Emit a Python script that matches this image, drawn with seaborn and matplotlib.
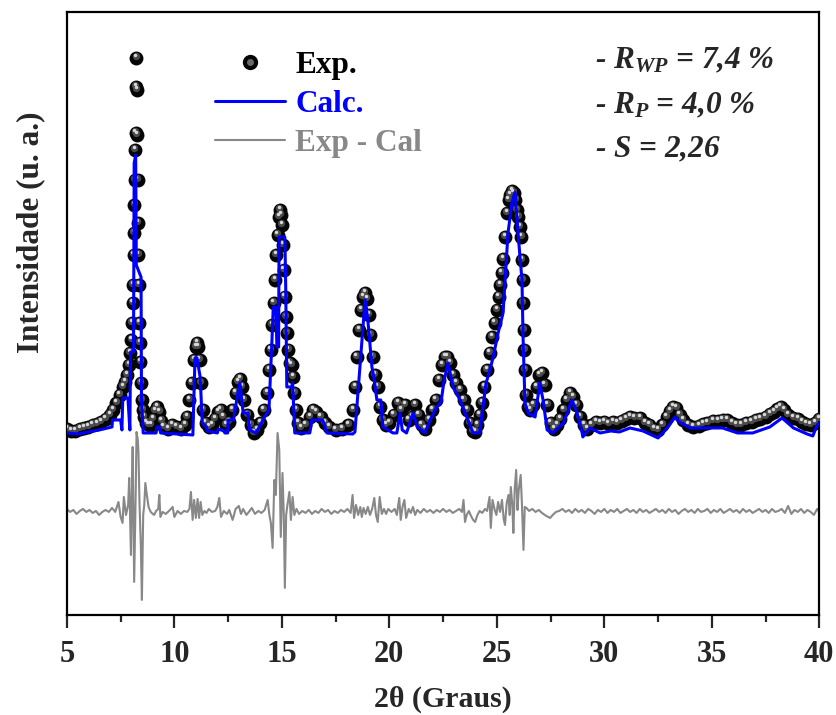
import matplotlib
matplotlib.use("Agg")
import matplotlib.pyplot as plt
import matplotlib.transforms as mtransforms
from matplotlib.lines import Line2D
from matplotlib.legend_handler import HandlerTuple
from matplotlib.ticker import MultipleLocator
import seaborn as sns
import pandas as pd

# Experimental pattern (2theta, intensity in arbitrary units)
exp_x = [5.0, 5.2, 5.4, 5.6, 5.8, 6.0, 6.2, 6.4, 6.6, 6.8, 7.0, 7.15, 7.3, 7.45, 7.6, 7.7, 7.8, 7.88, 7.95,
         8.0, 8.03, 8.06, 8.08, 8.10, 8.12, 8.14, 8.16, 8.18, 8.20, 8.22, 8.23, 8.25, 8.27, 8.29, 8.31, 8.33,
         8.35, 8.37, 8.39, 8.42, 8.45, 8.49, 8.54, 8.6, 8.7, 8.8, 8.9, 9.0, 9.1, 9.2, 9.3, 9.4, 9.5, 9.7,
         9.9, 10.1, 10.3, 10.5, 10.6, 10.7, 10.8, 10.9, 11.0, 11.05, 11.1, 11.17, 11.25, 11.33, 11.45, 11.6,
         11.75, 11.9, 12.05, 12.15, 12.25, 12.4, 12.55, 12.7, 12.85, 12.95, 13.05, 13.15, 13.25, 13.4, 13.55,
         13.7, 13.85, 14.0, 14.15, 14.3, 14.4, 14.48, 14.55, 14.62, 14.68, 14.74, 14.8, 14.86, 14.91, 14.96,
         15.0, 15.04, 15.08, 15.13, 15.18, 15.24, 15.3, 15.36, 15.45, 15.52, 15.58, 15.65, 15.75, 15.9, 16.1,
         16.3, 16.45, 16.6, 16.8, 17.0, 17.2, 17.5, 17.8, 18.1, 18.3, 18.4, 18.48, 18.58, 18.68, 18.78, 18.87,
         18.96, 19.05, 19.12, 19.22, 19.33, 19.45, 19.57, 19.7, 19.85, 20.0, 20.2, 20.4, 20.55, 20.73, 20.9,
         21.05, 21.2, 21.35, 21.5, 21.66, 21.85, 22.0, 22.15, 22.3, 22.45, 22.6, 22.7, 22.82, 22.96, 23.1,
         23.29, 23.45, 23.6, 23.75, 23.9, 24.0, 24.1, 24.2, 24.31, 24.42, 24.54, 24.66, 24.78, 24.9, 25.0,
         25.08, 25.15, 25.22, 25.3, 25.38, 25.47, 25.55, 25.62, 25.7, 25.78, 25.86, 25.93, 26.0, 26.08, 26.14,
         26.18, 26.2, 26.22, 26.25, 26.28, 26.31, 26.36, 26.45, 26.55, 26.7, 26.85, 26.98, 27.1, 27.22, 27.35,
         27.5, 27.65, 27.8, 27.95, 28.1, 28.25, 28.4, 28.55, 28.7, 28.87, 29.05, 29.2, 29.4, 29.6, 29.8, 30.0,
         30.2, 30.4, 30.6, 30.8, 31.0, 31.2, 31.4, 31.66, 31.9, 32.1, 32.3, 32.5, 32.7, 32.9, 33.05, 33.2,
         33.35, 33.5, 33.66, 33.9, 34.13, 34.4, 34.6, 34.8, 35.06, 35.3, 35.5, 35.7, 35.95, 36.15, 36.35, 36.6,
         36.85, 37.05, 37.25, 37.5, 37.7, 37.9, 38.05, 38.2, 38.35, 38.55, 38.8, 39.0, 39.2, 39.4, 39.6, 39.8, 40.0]
exp_y = [186, 184, 184, 186, 187, 188, 190, 191, 193, 196, 200, 205, 212, 220, 228, 233, 240, 250, 262,
         275, 292, 312, 330, 360, 382, 410, 435, 465, 482, 528, 557, 525, 480, 435, 392, 360,
         330, 292, 272, 253, 232, 215, 205, 198, 192, 190, 190, 196, 204, 208, 203, 194, 188, 186,
         190, 188, 186, 190, 198, 215, 232, 255, 268, 272, 268, 255, 232, 205, 192, 188,
         190, 196, 203, 205, 198, 190, 193, 205, 222, 233, 236, 228, 215, 200, 190,
         182, 185, 192, 205, 222, 245, 265, 290, 312, 335, 360, 380, 398, 405, 400,
         390, 370, 345, 318, 298, 282, 265, 252, 250, 238, 222, 205, 192, 187, 190,
         198, 205, 203, 198, 192, 188, 185, 186, 190, 205, 228, 258, 285, 305, 318, 322,
         316, 300, 280, 258, 240, 228, 208, 195, 190, 192, 200, 212, 205, 210, 195,
         198, 210, 200, 190, 186, 195, 205, 215, 235, 250, 258, 258, 252, 240, 232,
         225, 215, 205, 192, 184, 183, 190, 200, 212, 228, 245, 262, 278, 292, 305,
         318, 330, 342, 356, 378, 402, 415, 420, 424, 422, 415, 405, 398, 388, 378,
         355, 335, 312, 285, 265, 245, 220, 208, 205, 210, 228, 240, 242, 230, 210,
         192, 186, 190, 196, 205, 215, 222, 218, 210, 198, 190, 186, 190, 193, 192, 193,
         191, 193, 192, 194, 196, 198, 197, 197, 192, 190, 186, 185, 190, 198, 204, 208,
         207, 200, 195, 190, 188, 189, 191, 192, 194, 194, 195, 195, 192, 190, 190, 192,
         193, 195, 196, 198, 201, 203, 206, 208, 205, 200, 197, 196, 193, 191, 190, 192, 196]

# Calculated (Rietveld) profile
calc_x = [5.0, 5.5, 6.0, 6.5, 7.1, 7.12, 7.5, 7.56, 7.6, 7.84, 7.93, 7.96, 8.10, 8.13, 8.20, 8.23, 8.45,
          8.47, 8.55, 9.15, 9.19, 9.33, 9.36, 10.86, 10.96, 11.05, 11.2, 11.3, 11.5, 11.52, 12.0, 12.05,
          12.3, 12.35, 12.48, 12.5, 12.75, 12.9, 13.05, 13.2, 13.42, 13.5, 13.8, 13.95, 14.2, 14.4, 14.54,
          14.6, 14.72, 14.77, 14.85, 14.87, 15.14, 15.18, 15.23, 15.45, 15.5, 15.6, 16.3, 16.4, 16.9, 17.1,
          18.3, 18.4, 18.73, 18.87, 19.0, 19.19, 19.3, 19.42, 19.6, 19.7, 20.17, 20.35, 20.5, 20.6, 20.8,
          21.1, 21.3, 21.66, 21.9, 22.2, 22.4, 22.55, 22.73, 22.96, 23.29, 23.6, 23.9, 24.2, 24.5, 24.68,
          24.83, 25.06, 25.29, 25.52, 25.7, 25.85, 26.0, 26.17, 26.22, 26.31, 26.45, 26.78, 27.0, 27.15,
          27.34, 27.6, 28.1, 28.5, 28.73, 28.97, 29.0, 29.34, 29.8, 30.3, 30.7, 31.2, 31.8, 32.5, 32.97,
          33.29, 33.5, 34.0, 34.8, 35.5, 36.2, 36.9, 37.7, 38.27, 38.8, 39.43, 39.7, 39.9, 40.0]
calc_y = [182, 181, 183, 185, 188, 195, 195, 185, 217, 217, 185, 263, 263, 452, 460, 350, 338,
          218, 182, 182, 188, 188, 182, 180, 257, 257, 238, 192, 188, 184, 182, 186,
          184, 182, 182, 195, 195, 215, 232, 202, 202, 185, 182, 188, 198, 205, 275,
          308, 308, 268, 268, 378, 378, 328, 228, 228, 232, 182, 182, 195, 195, 182,
          181, 183, 275, 315, 295, 248, 235, 215, 215, 188, 182, 182, 202, 185, 182,
          202, 188, 182, 195, 208, 212, 235, 252, 228, 215, 198, 182, 182, 232, 245,
          258, 282, 302, 382, 412, 423, 378, 335, 278, 212, 202, 198, 232, 215,
          185, 182, 192, 215, 202, 182, 178, 187, 182, 184, 183, 187, 184, 177, 188,
          198, 193, 187, 187, 187, 182, 182, 188, 197, 187, 181, 179, 190, 192]

# Difference curve (Exp - Calc), shifted down
diff_x = [5.0, 5.15, 5.3, 5.45, 5.6, 5.75, 5.9, 6.05, 6.2, 6.35, 6.5, 6.65, 6.8, 6.95, 7.1, 7.25, 7.4,
          7.5, 7.59, 7.65, 7.75, 7.85, 7.9, 7.98, 8.02, 8.06, 8.13, 8.2, 8.24, 8.3, 8.33, 8.38, 8.44, 8.49,
          8.55, 8.6, 8.65, 8.72, 8.8, 8.9, 9.0, 9.06, 9.15, 9.25, 9.3, 9.35, 9.45, 9.6, 9.75, 9.92, 10.0,
          10.15, 10.3, 10.45, 10.6, 10.7, 10.77, 10.85, 10.92, 11.0, 11.08, 11.15, 11.22, 11.3, 11.4, 11.5,
          11.6, 11.75, 11.9, 12.0, 12.09, 12.17, 12.3, 12.45, 12.55, 12.71, 12.85, 13.0, 13.1, 13.2, 13.35,
          13.5, 13.6, 13.75, 13.9, 14.05, 14.2, 14.34, 14.42, 14.49, 14.57, 14.65, 14.72, 14.8, 14.88, 14.95,
          15.03, 15.09, 15.14, 15.2, 15.26, 15.35, 15.42, 15.5, 15.58, 15.68, 15.8, 15.95, 16.1, 16.25, 16.4,
          16.55, 16.7, 16.85, 17.0, 17.15, 17.3, 17.45, 17.6, 17.75, 17.9, 18.05, 18.2, 18.29, 18.36, 18.45,
          18.55, 18.65, 18.72, 18.8, 18.9, 19.0, 19.1, 19.2, 19.3, 19.38, 19.46, 19.55, 19.65, 19.75, 19.85,
          19.95, 20.1, 20.25, 20.35, 20.46, 20.53, 20.62, 20.7, 20.78, 20.9, 21.0, 21.1, 21.2, 21.3, 21.45,
          21.6, 21.75, 21.9, 22.05, 22.2, 22.35, 22.5, 22.65, 22.8, 22.95, 23.1, 23.25, 23.38, 23.45, 23.52,
          23.6, 23.7, 23.8, 23.9, 23.99, 24.1, 24.2, 24.32, 24.45, 24.55, 24.66, 24.72, 24.8, 24.9, 24.98,
          25.06, 25.15, 25.24, 25.32, 25.38, 25.46, 25.54, 25.6, 25.65, 25.72, 25.77, 25.83, 25.9, 25.96,
          26.02, 26.11, 26.17, 26.24, 26.3, 26.38, 26.5, 26.65, 26.8, 26.95, 27.1, 27.3, 27.48, 27.6, 27.75,
          27.9, 28.05, 28.2, 28.35, 28.5, 28.65, 28.8, 28.95, 29.1, 29.25, 29.4, 29.55, 29.7, 29.85, 30.0,
          30.15, 30.3, 30.45, 30.6, 30.75, 30.9, 31.05, 31.2, 31.35, 31.5, 31.65, 31.8, 31.95, 32.1, 32.25,
          32.4, 32.55, 32.7, 32.85, 33.0, 33.15, 33.3, 33.45, 33.6, 33.75, 33.9, 34.05, 34.2, 34.35, 34.5,
          34.65, 34.8, 34.95, 35.1, 35.25, 35.4, 35.55, 35.7, 35.85, 36.0, 36.15, 36.3, 36.45, 36.6, 36.75,
          36.9, 37.05, 37.2, 37.35, 37.5, 37.65, 37.8, 37.95, 38.1, 38.25, 38.4, 38.55, 38.7, 38.85, 39.0,
          39.15, 39.3, 39.45, 39.6, 39.75, 39.9, 40.0]
diff_y = [106, 103, 105, 101, 104, 106, 103, 105, 102, 104, 100, 103, 105, 103, 107, 103, 113,
          98, 92, 118, 100, 110, 137, 60, 120, 168, 33, 120, 183, 175, 162, 110, 70, 15,
          100, 110, 132, 120, 108, 103, 101, 100, 104, 106, 120, 98, 103, 101, 104, 108, 98,
          104, 101, 104, 103, 106, 123, 95, 115, 97, 116, 97, 113, 100, 104, 102,
          106, 103, 104, 108, 117, 98, 104, 101, 105, 95, 106, 109, 101, 106, 100,
          104, 107, 101, 104, 102, 105, 115, 100, 92, 67, 135, 120, 182, 165, 78,
          142, 100, 27, 100, 110, 123, 95, 118, 100, 106, 101, 104, 102, 105, 101,
          104, 102, 106, 103, 105, 101, 104, 102, 105, 103, 106, 102, 120, 97, 110,
          100, 108, 98, 107, 101, 108, 100, 106, 117, 100, 93, 118, 101, 106, 101,
          106, 103, 106, 100, 117, 95, 109, 115, 97, 106, 102, 108, 100, 105, 102,
          106, 103, 105, 102, 105, 103, 106, 103, 105, 102, 104, 106, 103, 115, 93,
          100, 104, 99, 95, 93, 100, 104, 102, 106, 104, 118, 87, 115, 105, 100,
          113, 103, 115, 96, 90, 112, 120, 100, 128, 110, 82, 125, 145, 105,
          125, 140, 110, 65, 108, 107, 104, 106, 103, 105, 102, 99, 97, 100, 103,
          104, 106, 103, 105, 102, 106, 103, 105, 102, 106, 104, 101, 105, 103, 106,
          102, 105, 103, 106, 102, 104, 106, 103, 105, 102, 106, 103, 105, 102, 104,
          106, 103, 105, 102, 106, 103, 105, 101, 104, 106, 103, 105, 102, 106, 103,
          104, 106, 102, 105, 103, 106, 102, 104, 106, 103, 105, 102, 106, 103, 105,
          102, 104, 106, 103, 105, 102, 106, 103, 104, 106, 102, 109, 101, 105, 103,
          106, 102, 105, 103, 100, 106, 103]

exp_df = pd.DataFrame({"x": exp_x, "y": exp_y})
calc_df = pd.DataFrame({"x": calc_x, "y": calc_y})
diff_df = pd.DataFrame({"x": diff_x, "y": diff_y})

sns.set_theme(style="ticks")
plt.rcParams["font.family"] = ["Liberation Serif", "DejaVu Serif"]
plt.rcParams["font.weight"] = "bold"
plt.rcParams["mathtext.fontset"] = "custom"
plt.rcParams["mathtext.rm"] = "Liberation Serif:bold"
plt.rcParams["mathtext.it"] = "Liberation Serif:italic:bold"
plt.rcParams["mathtext.bf"] = "Liberation Serif:bold"

fig = plt.figure(figsize=(8.36, 7.15), dpi=100)
ax = fig.add_axes([0.080, 0.140, 0.900, 0.843])

gray = "#888888"
sns.lineplot(data=diff_df, x="x", y="y", sort=False, estimator=None, color=gray, lw=1.5, ax=ax, zorder=2)

# spheres: dark body + offset highlights
hl1 = mtransforms.offset_copy(ax.transData, fig=fig, x=-0.8, y=1.8, units="dots")
hl2 = mtransforms.offset_copy(ax.transData, fig=fig, x=-1.2, y=2.8, units="dots")
sns.scatterplot(data=exp_df, x="x", y="y", s=100, color="#050505", linewidth=0, ax=ax, zorder=3)
sns.scatterplot(data=exp_df, x="x", y="y", s=28, color="#4a4a4a", linewidth=0, ax=ax, zorder=3,
                transform=hl1)
sns.scatterplot(data=exp_df, x="x", y="y", s=6, color="#d8d8d8", linewidth=0, ax=ax, zorder=3,
                transform=hl2)

sns.lineplot(data=calc_df, x="x", y="y", sort=False, estimator=None, color="#0000ff", lw=2.2, ax=ax, zorder=4)

ax.set_xlim(5, 40)
ax.set_ylim(0, 603)
ax.xaxis.set_major_locator(MultipleLocator(5))
ax.xaxis.set_minor_locator(MultipleLocator(2.5))
ax.set_yticks([])
ax.tick_params(axis="x", which="major", direction="out", length=9, width=1.6, labelsize=22, pad=9)
ax.tick_params(axis="x", which="minor", direction="out", length=5, width=1.6)
for sp in ax.spines.values():
    sp.set_linewidth(1.6)
    sp.set_color("black")
for lab in ax.get_xticklabels():
    lab.set_fontweight("bold")

ax.set_xlabel("2θ (Graus)", fontsize=21.5, fontweight="bold", labelpad=12)
ax.set_ylabel("Intensidade (u. a.)", fontsize=22.5, fontweight="bold", labelpad=10)
ax.yaxis.set_label_coords(-0.029, 0.635)

sphere = (Line2D([], [], ls="none", marker="o", markersize=10, color="#050505"),
          Line2D([], [], ls="none", marker="o", markersize=4, color="#6a6a6a"))
handles = [
    sphere,
    Line2D([], [], color="#0000ff", lw=2.2),
    Line2D([], [], color=gray, lw=1.5),
]
ax.legend(handles, ["Exp.", "Calc.", "Exp - Cal"], loc="upper left", bbox_to_anchor=(0.197, 0.935),
          frameon=False, borderpad=0, borderaxespad=0, handlelength=2.24, handletextpad=0.32,
          labelspacing=0.32, prop={"family": "Liberation Serif", "weight": "bold", "size": 22.5},
          labelcolor=["black", "#0000ff", gray], handler_map={tuple: HandlerTuple(ndivide=1)})

stats = ["- $R_{WP}$ = 7,4 %", "- $R_{P}$ = 4,0 %", "- $S$ = 2,26"]
for i, s in enumerate(stats):
    ax.text(0.702, 0.919 - i * 0.074, s, transform=ax.transAxes, fontsize=22.5, fontweight="bold",
            fontstyle="italic", va="center", ha="left")

fig.savefig("out.png", dpi=100)
